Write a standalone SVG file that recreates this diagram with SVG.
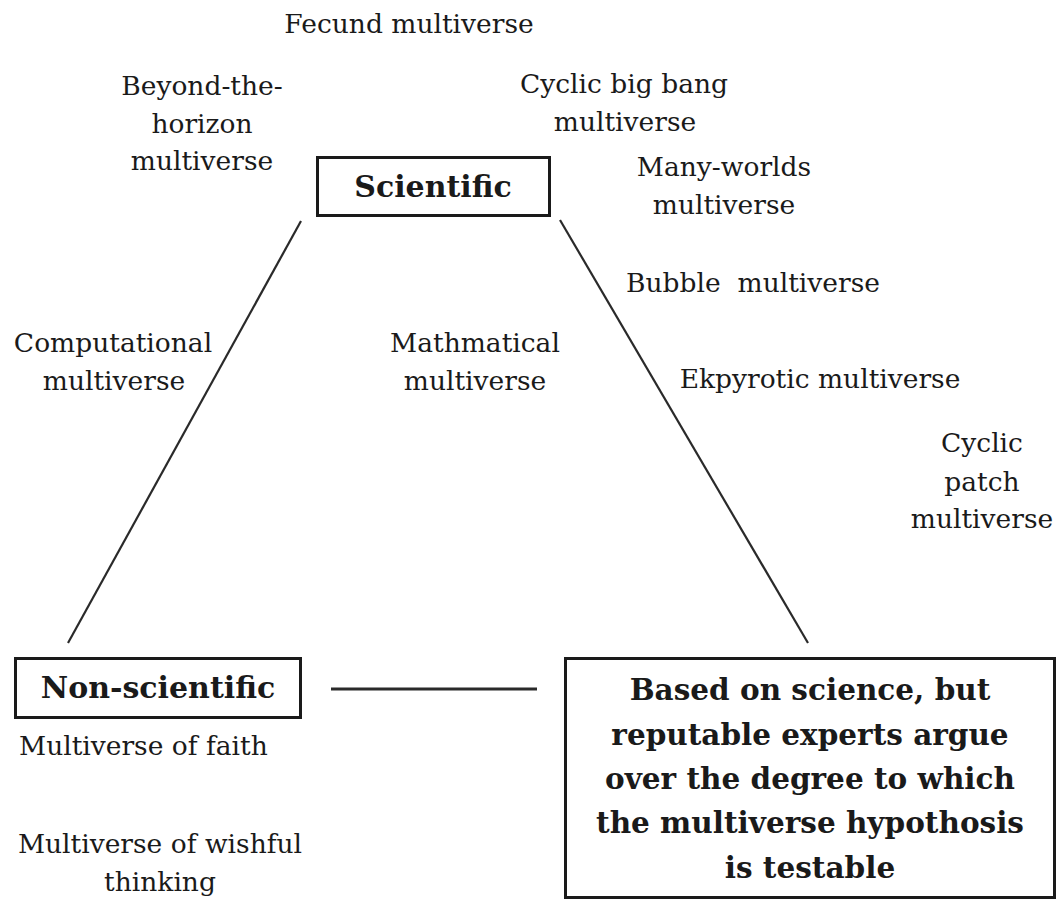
<svg xmlns="http://www.w3.org/2000/svg" width="1057" height="899" viewBox="0 0 1057 899">
<style>
text{font-family:"DejaVu Serif","Liberation Serif",serif;fill:#1a1a1a;text-anchor:middle}
.n{font-size:26.5px}
.b{font-size:30px;font-weight:bold}
.bb{font-size:29.5px;font-weight:bold}
.box{fill:#fff;stroke:#1a1a1a;stroke-width:3}
.ln{stroke:#2a2a2a;stroke-width:2.2;fill:none}
</style>
<rect width="1057" height="899" fill="#fff"/>
<g id="connectors">
<line class="ln" x1="301" y1="221" x2="68" y2="643"/>
<line class="ln" x1="560" y1="220" x2="808" y2="643"/>
<line class="ln" x1="331" y1="689" x2="537" y2="689" style="stroke-width:3"/>
</g>
<g id="scientific">
<rect class="box" x="317.5" y="157.5" width="232" height="58"/>
<text class="b" x="433" y="197">Scientific</text>
</g>
<g id="nonscientific">
<rect class="box" x="15.5" y="658.5" width="285" height="59"/>
<text class="b" x="158" y="698">Non-scientific</text>
</g>
<g id="based">
<rect class="box" x="565.5" y="658.5" width="489" height="239"/>
<text class="bb" x="810" y="700">Based on science, but</text>
<text class="bb" x="810" y="745">reputable experts argue</text>
<text class="bb" x="810" y="789">over the degree to which</text>
<text class="bb" x="810" y="833">the multiverse hypothosis</text>
<text class="bb" x="810" y="878">is testable</text>
</g>
<g id="fecund"><text class="n" x="409" y="33">Fecund multiverse</text></g>
<g id="beyond"><text class="n" x="202" y="95">Beyond-the-</text><text class="n" x="202" y="133">horizon</text><text class="n" x="202" y="170">multiverse</text></g>
<g id="cyclicbigbang"><text class="n" x="624" y="93">Cyclic big bang</text><text class="n" x="625" y="131">multiverse</text></g>
<g id="manyworlds"><text class="n" x="724" y="176">Many-worlds</text><text class="n" x="724" y="214">multiverse</text></g>
<g id="bubble"><text class="n" x="753" y="292" xml:space="preserve">Bubble  multiverse</text></g>
<g id="computational"><text class="n" x="113" y="352">Computational</text><text class="n" x="114" y="390">multiverse</text></g>
<g id="mathmatical"><text class="n" x="475" y="352">Mathmatical</text><text class="n" x="475" y="390">multiverse</text></g>
<g id="ekpyrotic"><text class="n" x="820" y="388">Ekpyrotic multiverse</text></g>
<g id="cyclicpatch"><text class="n" x="982" y="452">Cyclic</text><text class="n" x="982" y="491">patch</text><text class="n" x="982" y="528">multiverse</text></g>
<g id="faith"><text class="n" x="19" y="755" style="text-anchor:start">Multiverse of faith</text></g>
<g id="wishful"><text class="n" x="160" y="853">Multiverse of wishful</text><text class="n" x="160" y="891">thinking</text></g>
</svg>
